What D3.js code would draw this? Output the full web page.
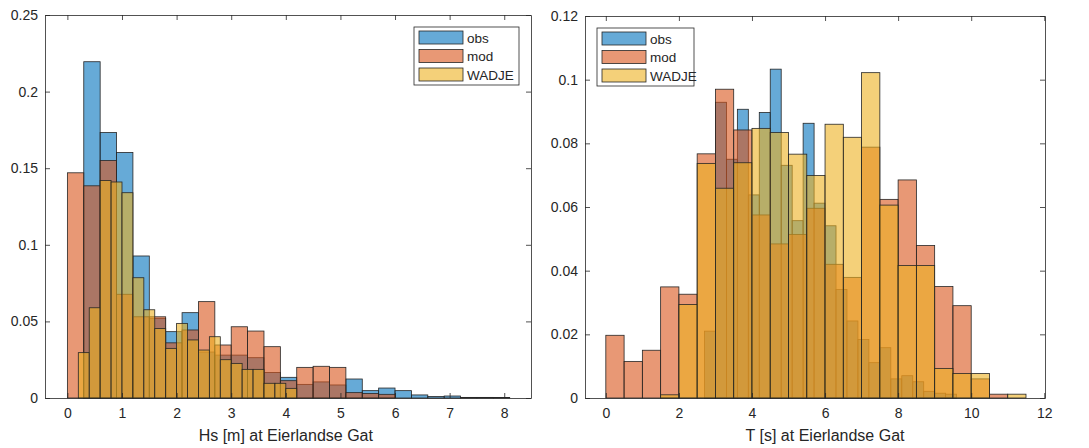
<!DOCTYPE html>
<meta charset="UTF-8">
<style>
    body { margin: 0; background: #fff; }
    svg text { font-family: Arial, "Liberation Sans", Helvetica, sans-serif; fill: #262626; }
    .axis path, .axis line { stroke: #262626; stroke-width: 0.8px; }
    .axis text { font-size: 14px; }
    .bar { stroke: #262626; stroke-width: 0.8px; fill-opacity: 0.6; }
</style>
<body>
<div id="chart"></div>
<script src="https://d3js.org/d3.v7.min.js"></script>
<script>

// ---- data: Hs histogram (probability), bin start + width per series
var hsObsStart = 0.3, hsObsWidth = 0.3;
var hsObs = [0.2195, 0.1733, 0.1603, 0.0927, 0.052, 0.0433, 0.0557, 0.030, 0.028, 0.028,
             0.0263, 0.0167, 0.0135, 0.0089, 0.0105, 0.0085, 0.0124, 0.0048, 0.0065, 0.0048,
             0.002, 0.001, 0.0013, 0.0004, 0.0004, 0.0003];
var hsModStart = 0, hsModWidth = 0.3;
var hsMod = [0.147, 0.1385, 0.155, 0.0677, 0.053, 0.053, 0.036, 0.0444, 0.0629, 0.0346,
             0.0465, 0.0437, 0.0335, 0.0113, 0.020, 0.0207, 0.020, 0.0035, 0.003, 0.0024];
var hsWadjeStart = 0.2, hsWadjeWidth = 0.2;
var hsWadje = [0.0296, 0.0589, 0.142, 0.141, 0.134, 0.0785, 0.0576, 0.0453, 0.0324, 0.0487,
               0.0379, 0.0313, 0.040, 0.025, 0.0226, 0.0187, 0.0187, 0.0096, 0.0096, 0.0063];
var hsXTicks = [0, 1, 2, 3, 4, 5, 6, 7, 8];
var hsYTicks = [0, 0.05, 0.1, 0.15, 0.2, 0.25];

// ---- data: T histogram (probability)
var tObsStart = 2.7, tObsWidth = 0.3;
var tObs = [0.021, 0.0929, 0.075, 0.0907, 0.0638, 0.0897, 0.1033, 0.0731, 0.0557, 0.0863,
            0.0612, 0.0541, 0.0341, 0.0242, 0.0184, 0.0111, 0.0158, 0.006, 0.007, 0.0051,
            0.0021, 0.0015, 0.0012];
var tModStart = 0, tModWidth = 0.5;
var tMod = [0.0197, 0.0115, 0.015, 0.0349, 0.0326, 0.0767, 0.097, 0.0842, 0.0575, 0.0484,
            0.0514, 0.0596, 0.042, 0.0379, 0.0788, 0.0624, 0.0685, 0.0479, 0.035, 0.029,
            0.006, 0.0012];
var tWadjeStart = 1.5, tWadjeWidth = 0.5;
var tWadje = [0.001, 0.0294, 0.0737, 0.0659, 0.0739, 0.0847, 0.0834, 0.0766, 0.0699, 0.086,
              0.0819, 0.1022, 0.0606, 0.0416, 0.0416, 0.0093, 0.0077, 0.0077, 0, 0.0012];
var tXTicks = [0, 2, 4, 6, 8, 10, 12];
var tYTicks = [0, 0.02, 0.04, 0.06, 0.08, 0.1, 0.12];

var seriesNames = ["obs", "mod", "WADJE"];
var colors = ["#0072BD", "#D95319", "#EDB120"];

var svg = d3.select("#chart").append("svg")
    .attr("width", 1089)
    .attr("height", 448);

// turn start/width/values into bins
function toBins(start, width, values) {
    return values.map(function(v, i) {
        return {x0: start + i * width, x1: start + (i + 1) * width, v: v};
    });
}

function drawPanel(p) {
    var x = d3.scaleLinear().domain(p.xDomain).range([p.left, p.right]);
    var y = d3.scaleLinear().domain(p.yDomain).range([p.bottom, p.top]);
    var g = svg.append("g");

    // bars: obs first, then mod, then WADJE on top
    p.series.forEach(function(s, k) {
        g.selectAll(".s" + k)
            .data(toBins(s[0], s[1], s[2]).filter(function(d) { return d.v > 0; }))
          .enter().append("rect")
            .attr("class", "bar")
            .attr("x", function(d) { return x(d.x0); })
            .attr("width", function(d) { return x(d.x1) - x(d.x0); })
            .attr("y", function(d) { return y(d.v); })
            .attr("height", function(d) { return y(0) - y(d.v); })
            .style("fill", colors[k]);
    });

    // axes with inward ticks on all four sides
    g.append("g").attr("class", "axis")
        .attr("transform", "translate(0," + p.bottom + ")")
        .call(d3.axisBottom(x).tickValues(p.xTicks).tickSize(-5).tickSizeOuter(0)
              .tickPadding(10).tickFormat(function(d) { return String(d); }));
    g.append("g").attr("class", "axis")
        .attr("transform", "translate(0," + p.top + ")")
        .call(d3.axisTop(x).tickValues(p.xTicks).tickSize(-5).tickSizeOuter(0)
              .tickFormat(""));
    g.append("g").attr("class", "axis")
        .attr("transform", "translate(" + p.left + ",0)")
        .call(d3.axisLeft(y).tickValues(p.yTicks).tickSize(-5).tickSizeOuter(0)
              .tickPadding(7).tickFormat(function(d) { return String(d); }));
    g.append("g").attr("class", "axis")
        .attr("transform", "translate(" + p.right + ",0)")
        .call(d3.axisRight(y).tickValues(p.yTicks).tickSize(-5).tickSizeOuter(0)
              .tickFormat(""));
    g.selectAll(".axis text").style("fill", "#262626");

    // x label
    g.append("text")
        .attr("x", (x(p.xTicks[0]) + x(p.xTicks[p.xTicks.length - 1])) / 2)
        .attr("y", 441)
        .attr("text-anchor", "middle")
        .style("font-size", "16px")
        .text(p.xLabel);

    // legend
    var lg = g.append("g").attr("transform", "translate(" + p.legend[0] + "," + p.legend[1] + ")");
    lg.append("rect")
        .attr("width", p.legend[2]).attr("height", 58)
        .style("fill", "#fff").style("stroke", "#262626").style("stroke-width", 0.8);
    seriesNames.forEach(function(name, k) {
        lg.append("rect")
            .attr("class", "bar")
            .attr("x", 5).attr("y", 4 + k * 18.5)
            .attr("width", 44).attr("height", 13)
            .style("fill", colors[k]);
        lg.append("text")
            .attr("x", 53).attr("y", 15.5 + k * 18.5)
            .style("font-size", "13.5px")
            .text(name);
    });
}

drawPanel({
    left: 45, right: 531, top: 15, bottom: 398,
    xDomain: [-0.41, 8.49], yDomain: [0, 0.25],
    xTicks: hsXTicks, yTicks: hsYTicks,
    series: [[hsObsStart, hsObsWidth, hsObs], [hsModStart, hsModWidth, hsMod],
             [hsWadjeStart, hsWadjeWidth, hsWadje]],
    xLabel: "Hs [m] at Eierlandse Gat",
    legend: [414, 27, 105]
});

drawPanel({
    left: 585, right: 1045, top: 16, bottom: 398,
    xDomain: [-0.57, 12.02], yDomain: [0, 0.12],
    xTicks: tXTicks, yTicks: tYTicks,
    series: [[tObsStart, tObsWidth, tObs], [tModStart, tModWidth, tMod],
             [tWadjeStart, tWadjeWidth, tWadje]],
    xLabel: "T [s] at Eierlandse Gat",
    legend: [597, 28, 97]
});

</script>
</body>
